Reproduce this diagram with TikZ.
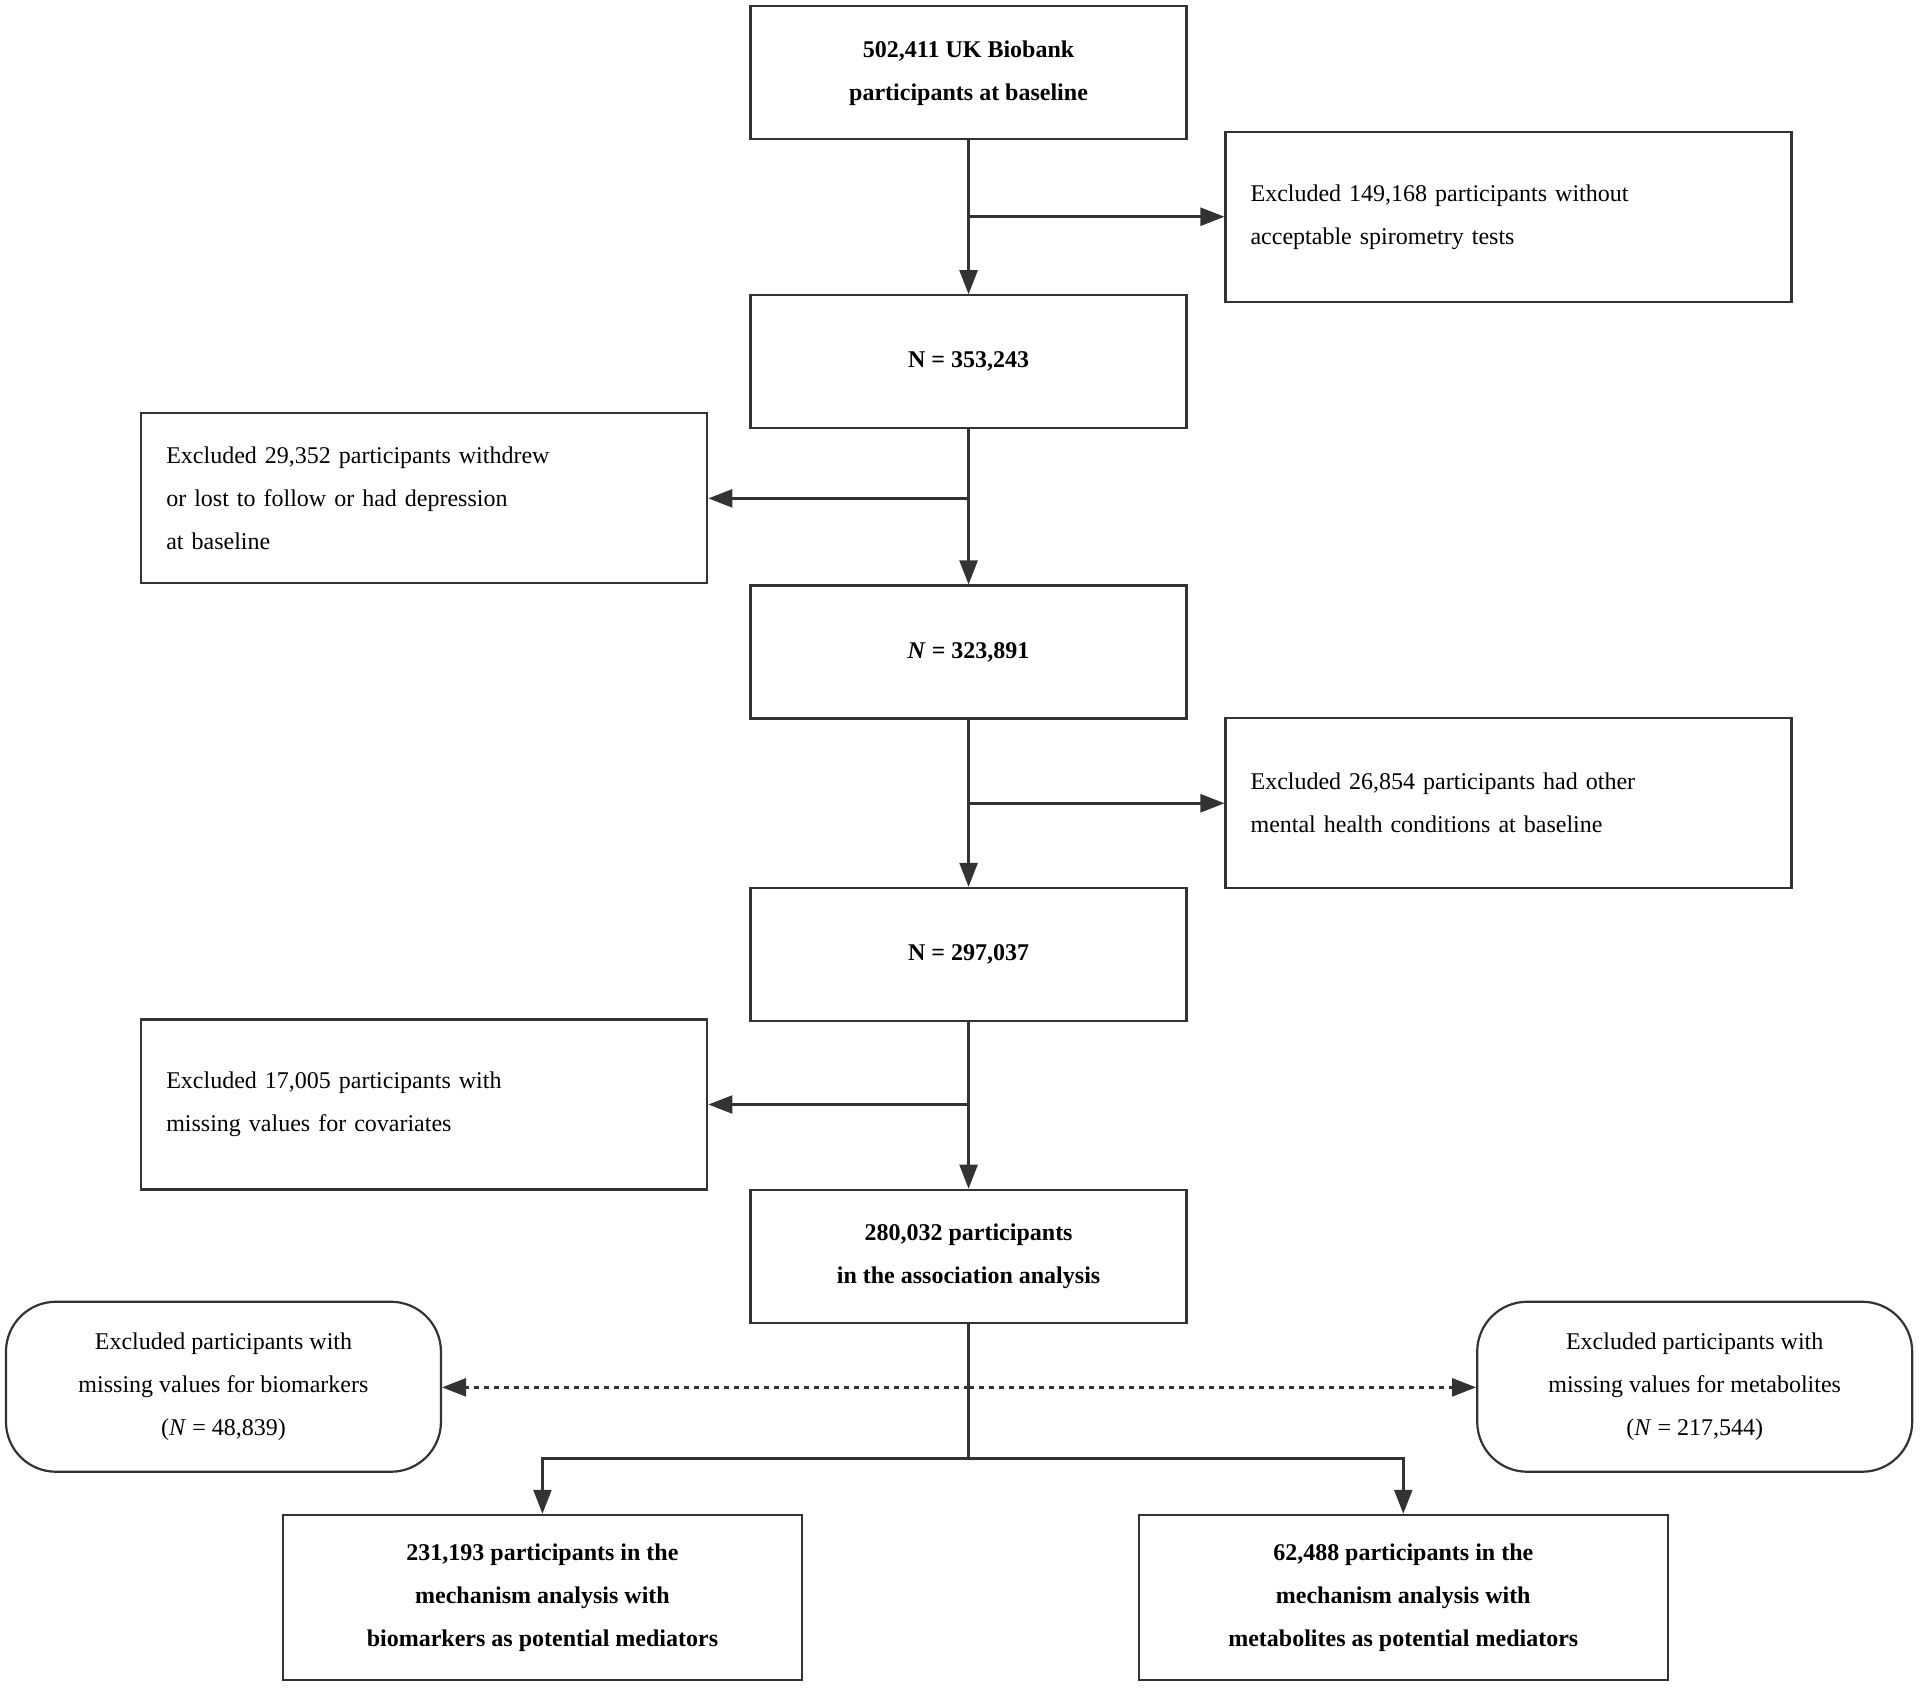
\documentclass[tikz,border=0pt]{standalone}
\usepackage{fontspec}
\setmainfont{Liberation Serif}
\usetikzlibrary{arrows.meta}
\begin{document}
\begin{tikzpicture}[x=1.2245pt,y=-1.2245pt,
  base/.style={draw=black!80,line width=2.2pt,inner sep=0pt,font=\fontsize{24}{43}\selectfont},
  mb/.style={base,minimum width=436pt,minimum height=133pt,align=center,font=\fontsize{24}{43}\selectfont\bfseries},
  eb/.style={base,minimum width=566pt,minimum height=170pt,text width=516pt,align=left},
  rb/.style={base,minimum width=435pt,minimum height=170pt,rounded corners=50pt,align=center},
  fb/.style={mb,minimum height=165pt},
  ar/.style={draw=black!80,line width=2.5pt,-{Triangle[length=24pt,width=18pt]}},
  ln/.style={draw=black!80,line width=2.5pt}]
\useasboundingbox (0,0) rectangle (1568,1380);
\node[mb] (b1) at (791,59.5) {502,411 UK Biobank\\participants at baseline};
\node[mb] (b2) at (791,295.5) {N = 353,243};
\node[mb] (b3) at (791,532.5) {\textit{N} = 323,891};
\node[mb] (b4) at (791,779.5) {N = 297,037};
\node[mb] (b5) at (791,1026) {280,032 participants\\in the association analysis};
\node[eb] (e1) at (1232,177.5) {Excluded 149,168 participants without\\acceptable spirometry tests};
\node[eb] (e2) at (346.5,407) {Excluded 29,352 participants withdrew\\or lost to follow or had depression\\at baseline};
\node[eb] (e3) at (1232,656) {Excluded 26,854 participants had other\\mental health conditions at baseline};
\node[eb] (e4) at (346.5,902) {Excluded 17,005 participants with\\missing values for covariates};
\node[rb] (r1) at (182.5,1132.5) {Excluded participants with\\missing values for biomarkers\\(\textit{N} = 48,839)};
\node[rb] (r2) at (1384,1132.5) {Excluded participants with\\missing values for metabolites\\(\textit{N} = 217,544)};
\node[fb,minimum width=519pt] (f1) at (443,1304.5) {231,193 participants in the\\mechanism analysis with\\biomarkers as potential mediators};
\node[fb,minimum width=529pt] (f2) at (1146,1304.5) {62,488 participants in the\\mechanism analysis with\\metabolites as potential mediators};
\draw[ar] (b1) -- (b2);
\draw[ar] (b2) -- (b3);
\draw[ar] (b3) -- (b4);
\draw[ar] (b4) -- (b5);
\coordinate (c1) at (791,177);
\coordinate (c2) at (791,407);
\coordinate (c3) at (791,656);
\coordinate (c4) at (791,902);
\coordinate (c5) at (791,1133);
\coordinate (c6) at (791,1191);
\draw[ar] (c1) -- (e1.west|-c1);
\draw[ar] (c2) -- (e2.east|-c2);
\draw[ar] (c3) -- (e3.west|-c3);
\draw[ar] (c4) -- (e4.east|-c4);
\draw[ar,dashed,dash pattern=on 5pt off 5pt] (c5) -- (r1.east|-c5);
\draw[ar,dashed,dash pattern=on 5pt off 5pt] (c5) -- (r2.west|-c5);
\draw[ln] (b5.south) -- (c6);
\draw[ar] (c6) -| (f1.north);
\draw[ar] (c6) -| (f2.north);
\end{tikzpicture}
\end{document}
